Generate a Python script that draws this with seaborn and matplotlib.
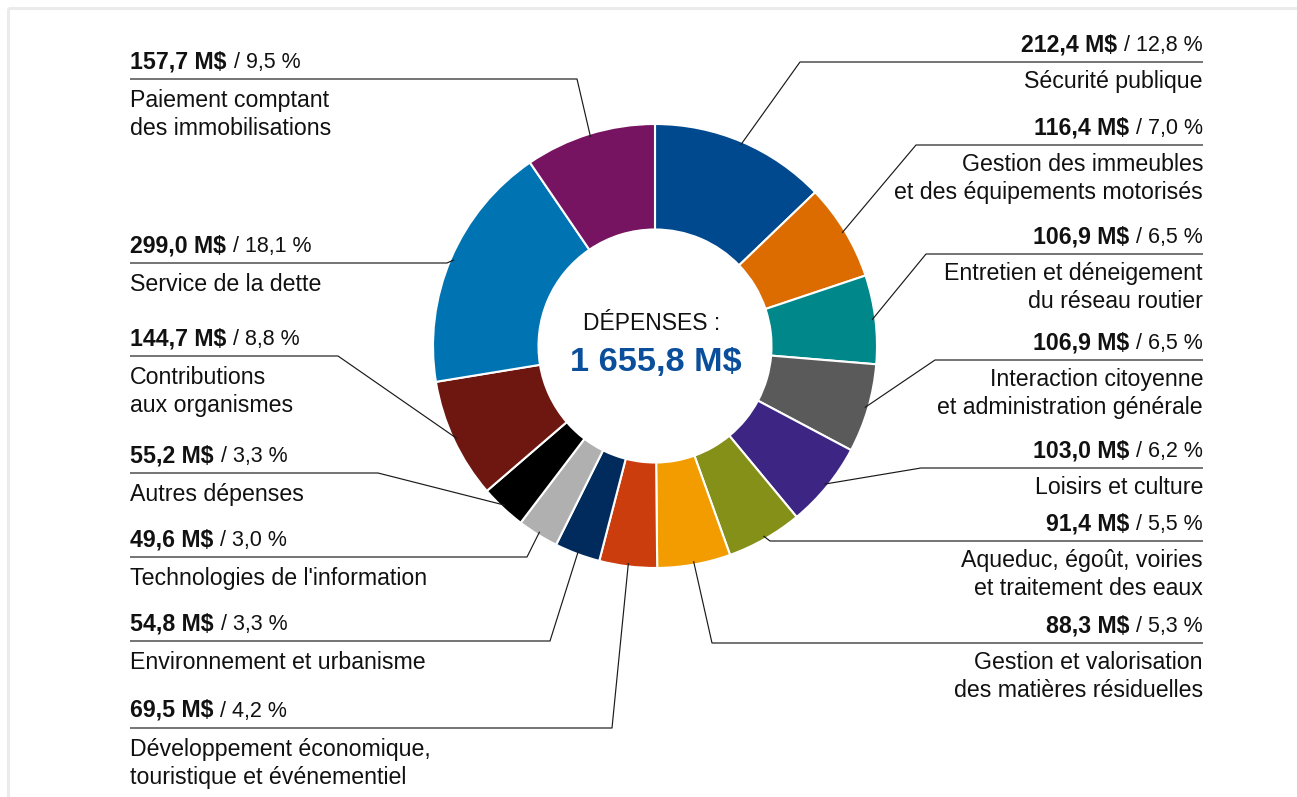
import matplotlib.pyplot as plt
import numpy as np
import seaborn as sns
from matplotlib.patches import Rectangle

# chart data, clockwise from 12 o'clock
categories = ["Sécurité publique",
              "Gestion des immeubles\net des équipements motorisés",
              "Entretien et déneigement\ndu réseau routier",
              "Interaction citoyenne\net administration générale",
              "Loisirs et culture",
              "Aqueduc, égoût, voiries\net traitement des eaux",
              "Gestion et valorisation\ndes matières résiduelles",
              "Développement économique,\ntouristique et événementiel",
              "Environnement et urbanisme",
              "Technologies de l'information",
              "Autres dépenses",
              "Contributions\naux organismes",
              "Service de la dette",
              "Paiement comptant\ndes immobilisations"]
values = [212.4, 116.4, 106.9, 106.9, 103.0, 91.4, 88.3,
          69.5, 54.8, 49.6, 55.2, 144.7, 299.0, 157.7]
percents = ["12,8", "7,0", "6,5", "6,5", "6,2", "5,5", "5,3",
            "4,2", "3,3", "3,0", "3,3", "8,8", "18,1", "9,5"]
total_label = "1 655,8 M$"
colors = ['#00498f', '#dc6b00', '#00878a', '#5a5a5a', '#3d2683', '#849018', '#f39c00',
          '#cc3d0e', '#002b5c', '#b0b0b0', '#000000', '#6e1710', '#0074b3', '#761461']

# label layout (pixels): side, y of the rule under the amount, x where the leader bends
sides = ['R'] * 7 + ['L'] * 7
rule_y = [62, 145, 254, 360, 468, 541, 643, 728, 641, 557, 473, 356, 263, 79]
bend_x = [800, 916, 926, 935, 921, 770, 712, 612, 550, 527, 378, 338, 447, 577]

sns.set_theme(style="white")
plt.rcParams['font.family'] = ['Liberation Sans', 'DejaVu Sans']

W, H = 1297, 797
fig = plt.figure(figsize=(W / 100, H / 100), dpi=100)
ax = fig.add_axes([0, 0, 1, 1])

cx, cy, R, r_in = 655, 346, 222, 116.5
wedges, _ = ax.pie(values, colors=sns.color_palette(colors), startangle=-90, counterclock=True,
                   radius=R, center=(cx, cy), frame=False,
                   wedgeprops=dict(width=R - r_in, edgecolor='white', linewidth=1.5))
ax.set_xlim(0, W)
ax.set_ylim(H, 0)
ax.axis('off')

# card frame
ax.add_patch(Rectangle((8, 8), W + 50, H + 50, fill=False, edgecolor='#ebebeb', lw=2.2))

fs = 16.7
fs_pct = 15.5
for i, w in enumerate(wedges):
    ang = np.deg2rad((w.theta1 + w.theta2) / 2)
    px, py = cx + 0.985 * R * np.cos(ang), cy + 0.985 * R * np.sin(ang)
    y = rule_y[i]
    amount = f"{values[i]:.1f}".replace('.', ',') + " M$"
    pct = f"/ {percents[i]} %"
    if sides[i] == 'R':
        xt = 1203
        t = ax.text(xt, y - 11, pct, ha='right', va='baseline', fontsize=fs_pct, color='#111111')
        ax.annotate(amount, xy=(0, 0), xycoords=t, xytext=(-7, 0), textcoords='offset pixels',
                    ha='right', va='bottom', fontsize=fs, fontweight='bold', color='#111111')
    else:
        xt = 130
        t = ax.text(xt, y - 11, amount, ha='left', va='baseline', fontsize=fs,
                    fontweight='bold', color='#111111')
        ax.annotate(pct, xy=(1, 0), xycoords=t, xytext=(7, 0), textcoords='offset pixels',
                    ha='left', va='bottom', fontsize=fs_pct, color='#111111')
    off = 26 if sides[i] == 'R' else 28
    for k, line in enumerate(categories[i].split('\n')):
        ax.text(xt, y + off + 28 * k, line, ha='right' if sides[i] == 'R' else 'left',
                va='baseline', fontsize=fs, color='#111111')
    ax.plot([xt, bend_x[i], px], [y, y, py], color='#1a1a1a', lw=0.85, solid_capstyle='butt')

ax.text(cx - 3, 330, "DÉPENSES :", ha='center', va='baseline', fontsize=16.5, color='#111111')
ax.text(cx + 1, 371, total_label, ha='center', va='baseline', fontsize=24.7,
        fontweight='bold', color='#0b4f9c')

fig.savefig('out.png', dpi=100)
